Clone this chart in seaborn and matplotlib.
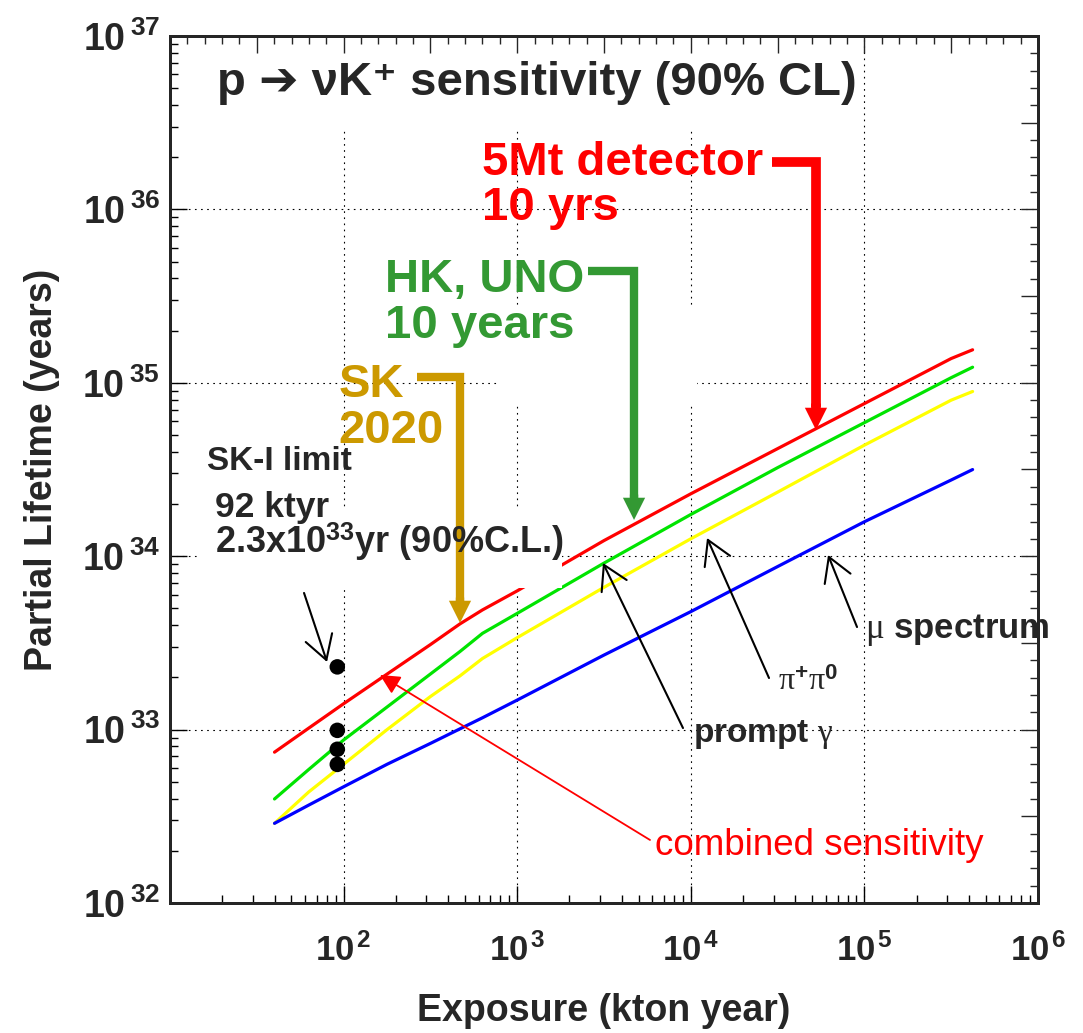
import numpy as np
import pandas as pd
import matplotlib
matplotlib.use("Agg")
import matplotlib.pyplot as plt
from matplotlib.ticker import FixedLocator, FixedFormatter, LogLocator, NullFormatter, MultipleLocator
from matplotlib.patches import Rectangle
import seaborn as sns

# ---- data -------------------------------------------------------------
exposure = [40, 63, 100, 178, 316, 468, 631, 1000, 3160, 1.0e4, 3.16e4, 1.0e5, 3.16e5, 4.2e5]
combined = [7.41e32, 1.02e33, 1.41e33, 2.09e33, 3.09e33, 4.07e33, 4.9e33, 6.31e33,
            1.23e34, 2.29e34, 4.17e34, 7.59e34, 1.38e35, 1.55e35]
prompt_gamma = [3.98e32, 5.89e32, 8.71e32, 1.35e33, 2.09e33, 2.82e33, 3.59e33, 4.68e33,
                9.12e33, 1.74e34, 3.24e34, 5.89e34, 1.07e35, 1.23e35]
pi_pi0 = [2.88e32, 4.37e32, 6.31e32, 1.0e33, 1.55e33, 2.04e33, 2.57e33, 3.39e33,
          6.61e33, 1.26e34, 2.34e34, 4.37e34, 7.94e34, 8.91e34]
mu_spectrum = [2.88e32, 3.67e32, 4.68e32, 6.31e32, 8.32e32, 1.01e33, 1.17e33, 1.48e33,
               2.69e33, 4.79e33, 8.71e33, 1.58e34, 2.75e34, 3.16e34]

sk1_exposure = [92, 92, 92, 92]
sk1_limits = [2.3e33, 9.9e32, 7.7e32, 6.3e32]

x_ticks = [1e2, 1e3, 1e4, 1e5, 1e6]
x_tick_labels = [r"$\mathbf{10^{\,2}}$", r"$\mathbf{10^{\,3}}$", r"$\mathbf{10^{\,4}}$",
                 r"$\mathbf{10^{\,5}}$", r"$\mathbf{10^{\,6}}$"]
y_ticks = [1e32, 1e33, 1e34, 1e35, 1e36, 1e37]
y_tick_labels = [r"$\mathbf{10^{\;32}}$", r"$\mathbf{10^{\;33}}$", r"$\mathbf{10^{\;34}}$",
                 r"$\mathbf{10^{\;35}}$", r"$\mathbf{10^{\;36}}$", r"$\mathbf{10^{\;37}}$"]

modes = ["combined", "prompt gamma", "pi+ pi0", "mu spectrum"]
mode_colors = ["#ff0000", "#00e400", "#ffff00", "#0000ff"]

df = pd.DataFrame({
    "exposure": exposure * 4,
    "lifetime": combined + prompt_gamma + pi_pi0 + mu_spectrum,
    "mode": np.repeat(modes, len(exposure)),
})

# ---- style ------------------------------------------------------------
sns.set_style("white")
plt.rcParams["font.family"] = ["Liberation Sans", "DejaVu Sans"]
plt.rcParams["mathtext.fontset"] = "custom"
plt.rcParams["mathtext.rm"] = "Liberation Serif"
plt.rcParams["mathtext.it"] = "Liberation Serif:italic"
plt.rcParams["mathtext.bf"] = "Liberation Sans:bold"
plt.rcParams["mathtext.sf"] = "Liberation Sans"

fig = plt.figure(figsize=(10.83, 10.33), dpi=100)
ax = fig.add_axes([0.15697, 0.12585, 0.80148, 0.83930])

sns.lineplot(data=df, x="exposure", y="lifetime", hue="mode", hue_order=modes,
             palette=mode_colors, linewidth=2.3, legend=False, estimator=None,
             sort=False, ax=ax, zorder=2)
sns.scatterplot(x=sk1_exposure, y=sk1_limits, color="black", s=125,
                edgecolor="none", ax=ax, zorder=5)

ax.set_xscale("log")
ax.set_yscale("log")
ax.set_xlim(10, 1e6)
ax.set_ylim(1e32, 1e37)

ax.xaxis.set_major_locator(FixedLocator(x_ticks))
ax.xaxis.set_major_formatter(FixedFormatter(x_tick_labels))
ax.xaxis.set_minor_locator(LogLocator(base=10, subs=np.arange(2, 10)))
ax.xaxis.set_minor_formatter(NullFormatter())
ax.yaxis.set_major_locator(FixedLocator(y_ticks))
ax.yaxis.set_major_formatter(FixedFormatter(y_tick_labels))
ax.yaxis.set_minor_locator(LogLocator(base=10, subs=np.arange(2, 10)))
ax.yaxis.set_minor_formatter(NullFormatter())

ax.tick_params(which="both", direction="in", top=False, right=False, width=1.0, color="black")
ax.tick_params(which="major", length=12)
ax.tick_params(which="minor", length=6)
ax.tick_params(axis="x", which="major", labelsize=25, pad=22)
ax.tick_params(axis="y", which="major", labelsize=27, pad=7)

for s in ax.spines.values():
    s.set_linewidth(2)
    s.set_color("black")

ax.set_axisbelow(True)
ax.grid(True, which="major", color="black", linewidth=0.8, linestyle=(0, (1.5, 4)))

# mirrored top / right axes, ticked linearly in decades
axt = ax.twiny()
axt.set_xlim(1, 6)
axt.xaxis.set_major_locator(MultipleLocator(0.5))
axt.xaxis.set_minor_locator(MultipleLocator(0.1))
axt.xaxis.set_major_formatter(NullFormatter())
axt.xaxis.set_minor_formatter(NullFormatter())
axt.tick_params(which="both", direction="in", width=1.0, top=True, bottom=False)
axt.tick_params(which="major", length=12)
axt.tick_params(which="minor", length=6)

axr = ax.twinx()
axr.set_ylim(32, 37)
axr.yaxis.set_major_locator(MultipleLocator(0.5))
axr.yaxis.set_minor_locator(MultipleLocator(0.1))
axr.yaxis.set_major_formatter(NullFormatter())
axr.yaxis.set_minor_formatter(NullFormatter())
axr.tick_params(which="both", direction="in", width=1.0, right=True, left=False)
axr.tick_params(which="major", length=12)
axr.tick_params(which="minor", length=6)
for a in (axt, axr):
    a.grid(False)
    for s in a.spines.values():
        s.set_linewidth(2)

ax.set_xlabel("Exposure (kton year)", fontsize=27, fontweight="bold", labelpad=18)
ax.set_ylabel("Partial Lifetime (years)", fontsize=27, fontweight="bold", labelpad=16)

# white panels behind the labels
for (x0, y0, w, h, z) in [(0.0668, 0.8916, 0.6198, 0.1084, 1.0),
                          (0.3767, 0.5767, 0.2304, 0.1107, 1.0),
                          (0.0311, 0.3633, 0.4205, 0.0934, 2.5)]:
    ax.add_patch(Rectangle((x0, y0), w, h, transform=ax.transAxes,
                           facecolor="white", edgecolor="none", zorder=z))

T = ax.transAxes
ax.text(0.0541, 0.932, "p ➔ νK⁺ sensitivity (90% CL)",
        transform=T, fontsize=34, fontweight="bold", ha="left", va="baseline", zorder=6)

# experiment call-outs with bent arrows
RED, GREEN, GOLD = "#ff0000", "#339933", "#cc9900"
callouts = [
    (RED, ["5Mt detector", "10 yrs"], [(0.3594, 0.8397), (0.3594, 0.7878)],
     [(0.6935, 0.8541), (0.7442, 0.8541), (0.7442, 0.5721)], 0.5456, 7.0),
    (GREEN, ["HK, UNO", "10 years"], [(0.2477, 0.7051), (0.2477, 0.6514)],
     [(0.4816, 0.7289), (0.5346, 0.7289), (0.5346, 0.4671)], 0.4418, 6.0),
    (GOLD, ["SK", "2020"], [(0.1939, 0.5840), (0.1939, 0.5306)],
     [(0.2842, 0.6070), (0.3341, 0.6070), (0.3341, 0.3483)], 0.3230, 6.0),
]
for color, lines, pos, path, tip_y, bar_w in callouts:
    for txt, (tx, ty) in zip(lines, pos):
        ax.text(tx, ty, txt, transform=T, color=color, fontsize=34, fontweight="bold",
                ha="left", va="baseline", zorder=6)
    px, py = zip(*path)
    ax.plot(px, py, transform=T, color=color, linewidth=bar_w,
            solid_joinstyle="miter", solid_capstyle="butt", zorder=4)
    ax.annotate("", xy=(px[-1], tip_y), xytext=(px[-1], py[-1] + 0.004),
                xycoords=T, textcoords=T, zorder=4,
                arrowprops=dict(arrowstyle=f"simple,head_length=16,head_width=16,tail_width={bar_w}",
                                mutation_scale=1, color=color, linewidth=0,
                                shrinkA=0, shrinkB=0))

# SK-I limit text
ax.text(0.0423, 0.4991, "SK-I limit", transform=T, fontsize=24, fontweight="bold",
        ha="left", va="baseline", zorder=6)
ax.text(0.0518, 0.4452, "92 ktyr", transform=T, fontsize=25.5, fontweight="bold",
        ha="left", va="baseline", zorder=6)
ax.text(0.0518, 0.4037, r"2.3x10$^{\mathbf{33}}$yr (90%C.L.)", transform=T, fontsize=26,
        fontweight="bold", ha="left", va="baseline", zorder=6)

# mode labels
ax.text(0.6025, 0.1860, r"prompt $\mathrm{\gamma}$", transform=T, fontsize=24,
        fontweight="bold", ha="left", va="baseline", zorder=6)
ax.text(0.7005, 0.2457, r"$\mathrm{\pi}^{\mathbf{+}}\mathrm{\pi}^{\mathbf{0}}$", transform=T,
        fontsize=23, ha="left", va="baseline", zorder=6)
ax.text(0.8007, 0.3057, r"$\mathrm{\mu}$ spectrum", transform=T, fontsize=25,
        fontweight="bold", ha="left", va="baseline", zorder=6)
ax.text(0.5588, 0.0554, "combined sensitivity", transform=T, fontsize=26.5, color=RED,
        ha="left", va="baseline", zorder=6)

thin = dict(arrowstyle="->,head_length=0.85,head_width=0.5", mutation_scale=20,
            color="black", linewidth=1.5, shrinkA=0, shrinkB=0)
for start, tip in [((0.1544, 0.3576), (0.1809, 0.2780)),
                   ((0.5910, 0.2018), (0.4988, 0.3922)),
                   ((0.6901, 0.2595), (0.6187, 0.4210)),
                   ((0.7915, 0.3183), (0.7581, 0.4014))]:
    ax.annotate("", xy=tip, xytext=start, xycoords=T, textcoords=T,
                arrowprops=thin, zorder=6)

ax.annotate("", xy=(0.2419, 0.2630), xytext=(0.5530, 0.0727), xycoords=T, textcoords=T,
            zorder=6,
            arrowprops=dict(arrowstyle="-|>,head_length=0.6,head_width=0.3",
                            mutation_scale=20, color=RED, linewidth=1.3,
                            shrinkA=0, shrinkB=0))

fig.savefig("out.png", dpi=100)
